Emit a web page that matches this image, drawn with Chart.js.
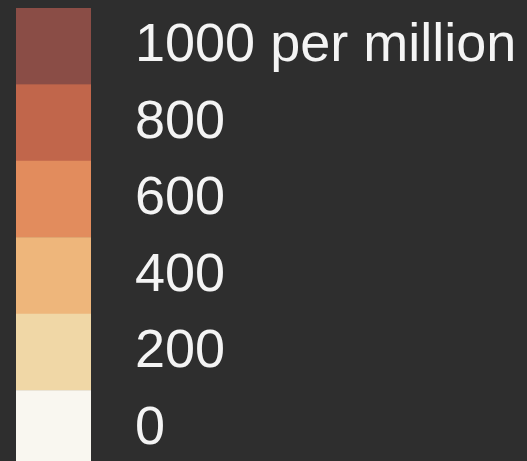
<!DOCTYPE html>
<html>
<head>
<meta charset="utf-8">
<script src="https://cdn.jsdelivr.net/npm/chart.js@4.4.1/dist/chart.umd.min.js"></script>
<style>
  html, body { margin: 0; padding: 0; background: #2e2e2e; overflow: hidden; }
  #wrap { position: relative; width: 527px; height: 467px; }
</style>
</head>
<body>
<div id="wrap"><canvas id="c"></canvas></div>
<script>
// Legend bins, top to bottom
const labels = ["1000 per million", "800", "600", "400", "200", "0"];
const binValues = [1, 1, 1, 1, 1, 1];
const binColors = ["#8a4d46", "#c1664b", "#e28c5d", "#eeb67b", "#f0d7a6", "#f9f7f0"];

Chart.defaults.font.family = "'Liberation Sans', Arial, Helvetica, sans-serif";

new Chart(document.getElementById('c'), {
  type: 'bar',
  data: {
    labels: labels,
    datasets: [{
      data: binValues,
      backgroundColor: binColors,
      borderWidth: 0,
      categoryPercentage: 1.0,
      barPercentage: 1.0
    }]
  },
  options: {
    indexAxis: 'y',
    responsive: true,
    maintainAspectRatio: false,
    animation: false,
    layout: { padding: { left: 16, top: 8, right: 0, bottom: 0 } },
    plugins: { legend: { display: false }, tooltip: { enabled: false } },
    scales: {
      x: { display: false, min: 0, max: 1 },
      y: {
        position: 'right',
        grid: { display: false, drawTicks: false },
        border: { display: false },
        ticks: {
          color: '#f4f4f4',
          font: { size: 54 },
          padding: 44,
          autoSkip: false
        },
        afterFit: (scale) => {
          scale.width = 436;
          scale.paddingTop = 0;
          scale.paddingBottom = 0;
        }
      }
    }
  }
});
</script>
</body>
</html>
